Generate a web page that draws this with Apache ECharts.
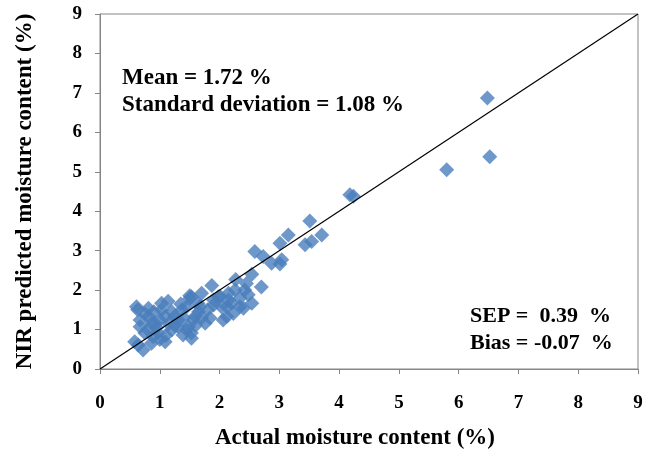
<!DOCTYPE html>
<html>
<head>
<meta charset="utf-8">
<script src="https://cdn.jsdelivr.net/npm/echarts@6/dist/echarts.min.js"></script>
<style>
  html, body { margin: 0; padding: 0; background: #fff; }
  #chart { width: 658px; height: 450px; }
</style>
</head>
<body>
<div id="chart"></div>
<script>
// actual vs NIR predicted moisture content (%)
var actual = [
    6.48, 6.52, 5.80, 4.18, 4.24,
    3.51, 3.15, 3.01, 3.71, 3.43, 3.54,
    2.59, 2.73, 2.87, 3.04, 3.01,
    2.54, 2.27, 2.70, 2.42, 2.45,
    1.87, 1.70, 1.50, 2.01, 2.34, 2.26, 2.15,
    1.45, 1.67, 1.90, 2.12, 2.34, 2.54, 2.48,
    1.56, 1.84, 2.06, 2.12, 2.23, 2.40, 1.98, 2.03, 2.20, 1.76, 1.64, 1.59, 1.53,
    0.61, 0.63, 0.81, 1.03, 1.14, 1.50,
    0.67, 0.86, 1.09, 1.31, 1.48, 0.81, 0.92, 1.03, 1.25, 1.37, 1.31,
    0.75, 0.97, 1.20, 1.39, 1.53, 1.45,
    0.64, 0.72, 0.58, 0.86, 1.09, 0.89, 0.67, 1.53,
    0.95, 1.15, 1.20, 0.75, 1.00, 1.40, 1.65, 1.80, 1.70, 1.35, 0.90, 1.10, 1.25, 0.80, 1.90, 2.15, 1.00, 1.60
];
var predicted = [
    6.87, 5.38, 5.05, 4.42, 4.38,
    3.75, 3.40, 3.19, 3.40, 3.15, 3.23,
    2.98, 2.85, 2.68, 2.77, 2.66,
    2.40, 2.27, 2.08, 2.00, 2.17,
    2.12, 1.92, 1.86, 1.84, 1.80, 2.00, 1.92,
    1.58, 1.58, 1.62, 1.58, 1.58, 1.67, 1.88,
    1.24, 1.29, 1.24, 1.33, 1.41, 1.54, 1.83, 1.58, 1.67, 1.16, 1.67, 1.33, 1.83,
    1.58, 1.50, 1.54, 1.67, 1.72, 1.79,
    1.24, 1.16, 1.33, 1.24, 1.07, 1.33, 1.16, 1.50, 1.33, 1.50, 1.07,
    0.91, 0.91, 0.99, 0.86, 0.78, 0.99,
    0.61, 0.48, 0.69, 0.65, 0.69, 0.82, 1.07, 0.91,
    1.05, 1.15, 1.45, 1.40, 1.25, 1.30, 1.45, 1.50, 1.30, 1.65, 1.45, 0.85, 1.10, 1.00, 1.75, 1.75, 0.75, 1.10
];
var refLine = [[0, 0], [9, 9]];
var axisTicks = [0, 1, 2, 3, 4, 5, 6, 7, 8, 9];

var points = actual.map(function (x, i) { return [x, predicted[i]]; });

var dom = document.getElementById('chart');
var myChart = echarts.init(dom, null, { renderer: 'canvas' });

var serif = '"Liberation Serif", "Times New Roman", serif';
var axisGray = '#868686';

var option = {
    animation: false,
    grid: {
        left: 100,
        right: 20,
        top: 14,
        bottom: 81,
        outerBoundsMode: 'none',
        containLabel: false,
        show: true,
        borderColor: axisGray,
        borderWidth: 1
    },
    xAxis: {
        type: 'value',
        min: axisTicks[0],
        max: axisTicks[axisTicks.length - 1],
        interval: 1,
        name: 'Actual moisture content (%)',
        nameLocation: 'middle',
        nameGap: 58,
        nameTextStyle: {
            fontFamily: serif, fontWeight: 'bold', fontSize: 23, color: '#000',
            padding: [0, 28, 0, 0]
        },
        axisLine: { lineStyle: { color: axisGray } },
        axisTick: { show: true, length: 5, lineStyle: { color: axisGray } },
        axisLabel: { fontFamily: serif, fontWeight: 'bold', fontSize: 19, color: '#000', margin: 25 },
        splitLine: { show: false }
    },
    yAxis: {
        type: 'value',
        min: axisTicks[0],
        max: axisTicks[axisTicks.length - 1],
        interval: 1,
        name: 'NIR predicted moisture content (%)',
        nameLocation: 'middle',
        nameGap: 63,
        nameTextStyle: { fontFamily: serif, fontWeight: 'bold', fontSize: 23, color: '#000' },
        axisLine: { show: true, lineStyle: { color: axisGray } },
        axisTick: { show: true, length: 5, lineStyle: { color: axisGray } },
        axisLabel: { fontFamily: serif, fontWeight: 'bold', fontSize: 19, color: '#000', margin: 18 },
        splitLine: { show: false }
    },
    graphic: [
        { type: 'text', left: 122, top: 67, style: { text: 'Mean = 1.72 %', font: 'bold 23px ' + serif, fill: '#000' } },
        { type: 'text', left: 122, top: 94, style: { text: 'Standard deviation = 1.08 %', font: 'bold 23px ' + serif, fill: '#000' } },
        { type: 'text', left: 470, top: 305, style: { text: 'SEP =  0.39  %', font: 'bold 22px ' + serif, fill: '#000' } },
        { type: 'text', left: 470, top: 332, style: { text: 'Bias = -0.07  %', font: 'bold 22px ' + serif, fill: '#000' } }
    ],
    series: [
        {
            name: 'samples',
            type: 'scatter',
            symbol: 'diamond',
            symbolSize: 15,
            itemStyle: { color: '#4a7ebb' },
            data: points,
            z: 2
        },
        {
            name: '1:1',
            type: 'line',
            data: refLine,
            symbol: 'none',
            lineStyle: { color: '#000', width: 1.2 },
            z: 3
        }
    ]
};

myChart.setOption(option);
</script>
</body>
</html>
